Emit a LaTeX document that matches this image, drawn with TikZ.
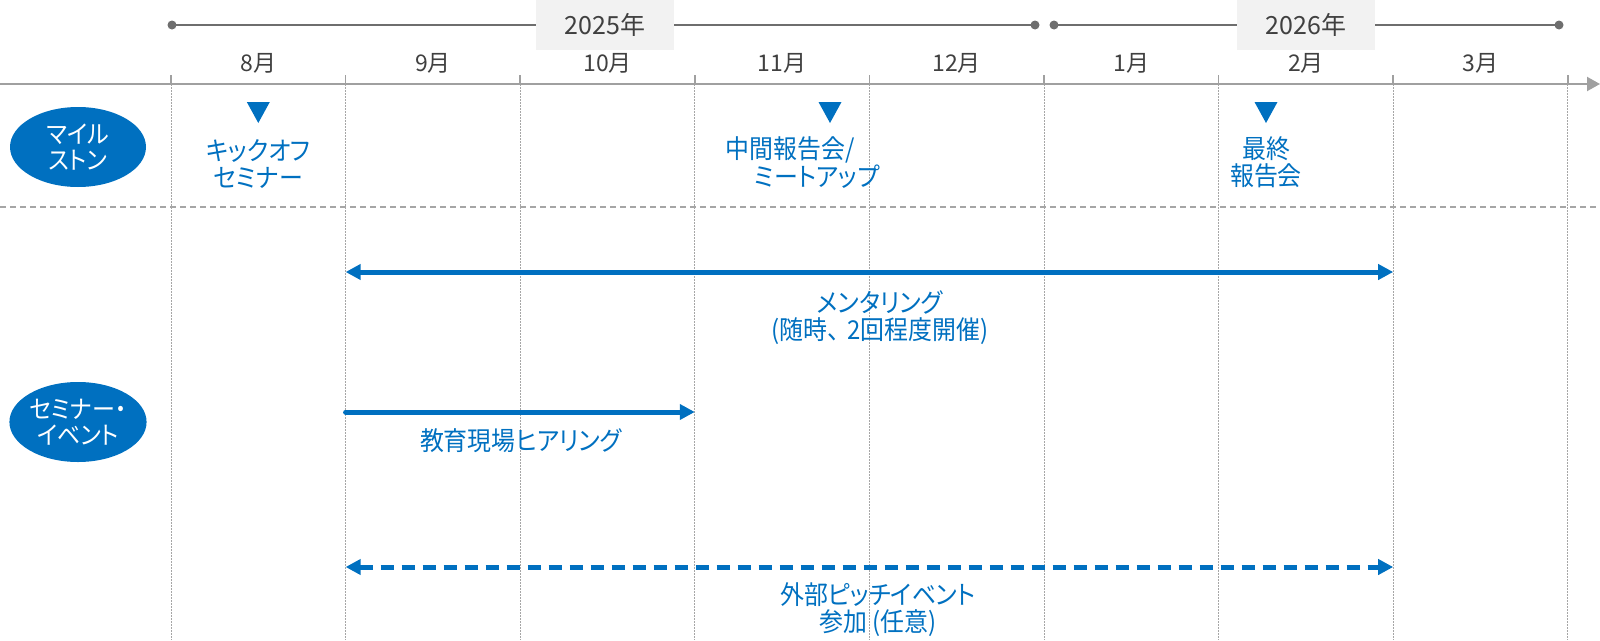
\documentclass[tikz,border=0pt]{standalone}
\usepackage{fontspec}
\setmainfont{Noto Sans CJK JP}[RawFeature=+palt]
\newfontfamily\bluefont{Noto Sans CJK JP}[RawFeature=+palt, FakeStretch=0.92]
\usetikzlibrary{arrows.meta,shapes.geometric}
\definecolor{myblue}{HTML}{0070C0}
\definecolor{axisgray}{HTML}{A0A0A0}
\definecolor{yeargray}{HTML}{6E6E6E}
\definecolor{txtgray}{HTML}{404040}
\definecolor{boxgray}{HTML}{F2F2F2}
\definecolor{gridgray}{HTML}{A6A6A6}
\begin{document}
\begin{tikzpicture}[x=1pt,y=-1pt,
  month/.style={font=\fontsize{23}{26}\selectfont, text=txtgray, inner sep=0pt},
  yearbox/.style={fill=boxgray, minimum width=138pt, minimum height=50pt, font=\fontsize{25}{28}\selectfont, text=txtgray, inner sep=0pt},
  catnode/.style={ellipse, fill=myblue, minimum width=136pt, minimum height=80pt, inner sep=0pt, text=white, align=center, font=\bluefont\fontsize{25}{26}\selectfont},
  bluetext/.style={text=myblue, align=center, inner sep=0pt, font=\bluefont\fontsize{26}{27}\selectfont},
  milestone/.style={fill=myblue},
  gridline/.style={gridgray, line width=1pt, dash pattern=on 1.5pt off 1.5pt},
  tickline/.style={axisgray, line width=1.5pt},
  barrow/.style={myblue, line width=5pt, line cap=round},
  bdash/.style={myblue, line width=5pt, dash pattern=on 13pt off 8pt},
  ydot/.style={fill=yeargray},
]
\useasboundingbox (0,0) rectangle (1600,640);

% grid lines and ticks
\foreach \i in {0,...,8}{
  \pgfmathsetmacro{\bx}{171+174.6*\i}
  \draw[gridline] (\bx,84) -- (\bx,640);
  \draw[tickline] (\bx,75) -- (\bx,84);
}

% horizontal separator
\draw[gridgray, line width=1.5pt, dash pattern=on 6pt off 4pt] (0,207) -- (1600,207);

% axis
\coordinate (axL) at (0,84);
\coordinate (axR) at (1600,84);
\draw[axisgray, line width=2pt, -{Triangle[length=13pt,width=14pt]}] (axL) -- (axR);

% year lines
\coordinate (y1a) at (172,25);
\coordinate (y1b) at (1035,25);
\coordinate (y2a) at (1054,25);
\coordinate (y2b) at (1559,25);
\draw[yeargray, line width=2pt] (y1a) -- (y1b);
\draw[yeargray, line width=2pt] (y2a) -- (y2b);
\foreach \p in {y1a,y1b,y2a,y2b}{ \fill[ydot] (\p) circle (4.5pt); }
\node[yearbox] (yr2025) at (605,25) {2025年};
\node[yearbox] (yr2026) at (1306,25) {2026年};

% month labels
\foreach \m [count=\i from 0] in {8,9,10,11,12,1,2,3}{
  \pgfmathsetmacro{\cx}{171+174.6*(\i+0.5)}
  \node[month] (mon\i) at (\cx,63) {\m 月};
}

% category ellipses
\node[catnode] (milestones) at (78,147) {マイル\\ストン};
\node[catnode] (events) at (78,422) {セミナー・\\イベント};

% milestone triangles
\foreach \tx in {258.3,830,1266}{
  \fill[milestone] (\tx-11.5,102) -- (\tx+11.5,102) -- (\tx,123) -- cycle;
}
\node[bluetext] (kickoff) at (258.3,163.5) {キックオフ\\セミナー};
\node[bluetext] (midA) at (790,150) {中間報告会/};
\node[bluetext] (midB) at (817,177) {ミートアップ};
\node[bluetext] (final) at (1266,162) {最終\\報告会};

% bars
\coordinate (mentL) at (345.6,272);
\coordinate (mentR) at (1393.2,272);
\draw[barrow, {Triangle[length=15pt,width=15pt]}-{Triangle[length=15pt,width=15pt]}] (mentL) -- (mentR);
\node[bluetext] (mentText) at (880,318) {メンタリング\\(随時、\hspace{8pt}2回程度開催)};

\coordinate (hearL) at (345.6,412);
\coordinate (hearR) at (694.8,412);
\draw[barrow, -{Triangle[length=15pt,width=15pt]}] (hearL) -- (hearR);
\node[bluetext] (hearText) at (521,441) {教育現場ヒアリング};

\coordinate (pitchL) at (345.6,567);
\coordinate (pitchR) at (1393.2,567);
\draw[bdash, {Triangle[length=15pt,width=15pt]}-{Triangle[length=15pt,width=15pt]}] (pitchL) -- (pitchR);
\node[bluetext] (pitchText) at (878,610) {外部ピッチイベント\\参加 (任意)};
\end{tikzpicture}
\end{document}
